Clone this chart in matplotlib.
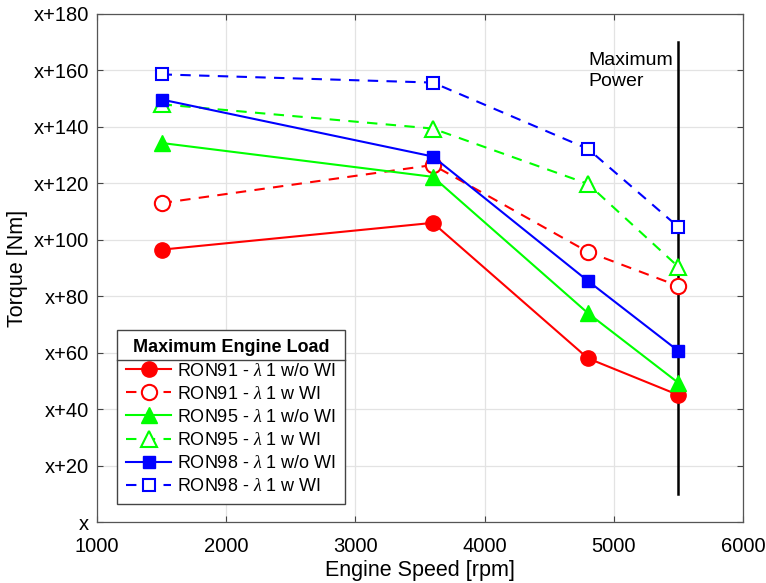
import matplotlib.pyplot as plt
from matplotlib.lines import Line2D

plt.rcParams['font.family'] = ['Liberation Sans', 'DejaVu Sans']
plt.rcParams['mathtext.fontset'] = 'custom'
plt.rcParams['mathtext.it'] = 'Liberation Serif:italic'

# Engine speed points [rpm]
speed = [1500, 3600, 4800, 5500]

# Torque offsets above x [Nm]
ron91_wo = [96.5, 106, 58, 45]
ron91_w = [113, 126.5, 95.7, 83.6]
ron95_wo = [134.3, 122.3, 74, 49.3]
ron95_w = [148, 139.4, 119.8, 90.4]
ron98_wo = [149.7, 129.5, 85.4, 60.6]
ron98_w = [158.6, 155.7, 132.2, 104.5]

labels = [r'RON91 - $\lambda$ 1 w/o WI', r'RON91 - $\lambda$ 1 w WI',
          r'RON95 - $\lambda$ 1 w/o WI', r'RON95 - $\lambda$ 1 w WI',
          r'RON98 - $\lambda$ 1 w/o WI', r'RON98 - $\lambda$ 1 w WI']

yticks = list(range(0, 181, 20))
ytick_labels = ['x'] + ['x+%d' % v for v in yticks[1:]]

max_power_rpm = 5500
max_power_span = [10, 170]

fig = plt.figure(figsize=(7.66, 5.83), dpi=100)
ax = fig.add_axes([0.1266, 0.1046, 0.8434, 0.8714])

ax.plot([max_power_rpm, max_power_rpm], max_power_span, color='black', lw=1.8, zorder=1)

ms = 11
ax.plot(speed, ron91_wo, '-', color='red', marker='o', ms=ms, lw=1.5, label=labels[0])
ax.plot(speed, ron91_w, '--', color='red', marker='o', ms=ms, mfc='white', mew=1.5, lw=1.5,
        dashes=(5, 4), label=labels[1])
ax.plot(speed, ron95_wo, '-', color='#00ff00', marker='^', ms=ms + 1, lw=1.5, label=labels[2])
ax.plot(speed, ron95_w, '--', color='#00ff00', marker='^', ms=ms + 1, mfc='white', mew=1.5, lw=1.5,
        dashes=(5, 4), label=labels[3])
ax.plot(speed, ron98_wo, '-', color='blue', marker='s', ms=ms - 2, lw=1.5, label=labels[4])
ax.plot(speed, ron98_w, '--', color='blue', marker='s', ms=ms - 2, mfc='white', mew=1.5, lw=1.5,
        dashes=(5, 4), label=labels[5])

ax.text(4800, 159.8, 'Maximum\nPower', fontsize=14, ha='left', va='center', linespacing=1.35)

ax.set_xlim(1000, 6000)
ax.set_ylim(0, 180)
ax.set_xticks(range(1000, 6001, 1000))
ax.set_yticks(yticks)
ax.set_yticklabels(ytick_labels)
ax.tick_params(labelsize=14.5, direction='in', length=4, color='#444444', top=True, right=True)
ax.tick_params(axis='x', pad=11)
ax.tick_params(axis='y', pad=6)
ax.grid(True, color='#e3e3e3', lw=0.9)
ax.set_axisbelow(True)
for s in ax.spines.values():
    s.set_color('#555555')
    s.set_linewidth(0.9)

ax.set_xlabel('Engine Speed [rpm]', fontsize=15.5, labelpad=3)
ax.set_ylabel('Torque [Nm]', fontsize=15.5, labelpad=4)

leg = ax.legend(loc='lower left', bbox_to_anchor=(0.031, 0.035), borderaxespad=0,
                fontsize=13, title='Maximum Engine Load', fancybox=False, framealpha=1,
                edgecolor='#444444', handlelength=2.5, handletextpad=0.3,
                labelspacing=0.34, borderpad=0.5)
leg.get_title().set_fontweight('bold')
leg.get_title().set_fontsize(13)
leg.get_frame().set_linewidth(1.0)

# separator line under legend title
fig.canvas.draw()
inv = fig.transFigure.inverted()
frame_bb = leg.get_frame().get_window_extent()
title_bb = leg.get_title().get_window_extent()
y_sep = title_bb.y0 - 4
(x0, ys), (x1, _) = inv.transform([(frame_bb.x0, y_sep), (frame_bb.x1, y_sep)])
fig.add_artist(Line2D([x0, x1], [ys, ys], color='#444444', lw=1.0, zorder=10))

fig.savefig('out.png', dpi=100)
